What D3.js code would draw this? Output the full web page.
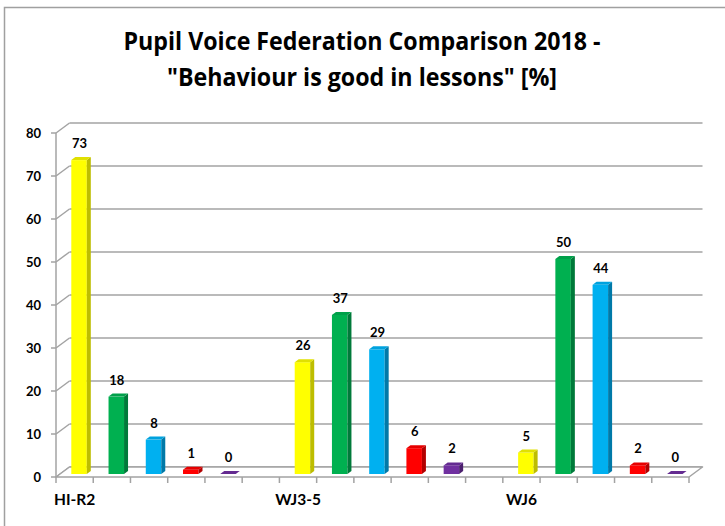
<!DOCTYPE html>
<html>
<head>
<meta charset="utf-8">
<script src="https://cdn.jsdelivr.net/npm/d3@7"></script>
<style>
  html, body { margin: 0; padding: 0; background: #fff; }
  svg { display: block; }
</style>
</head>
<body>
<svg id="chart" width="725" height="526"></svg>
<script>
// ---- data ----
const categories = ["HI-R2", "WJ3-5", "WJ6"];
const hiR2 = [73, 18, 8, 1, 0];
const wj35 = [26, 37, 29, 6, 2];
const wj6  = [5, 50, 44, 2, 0];
const groupValues = [hiR2, wj35, wj6];
const yTicks = [0, 10, 20, 30, 40, 50, 60, 70, 80];
const titleLines = ["Pupil Voice Federation Comparison 2018 -", "\"Behaviour is good in lessons\" [%]"];
const frontColors = ["#FFFF00", "#00B050", "#00B0F0", "#FF0000", "#7030A0"];
const sideColors  = ["#BDBD00", "#007A3A", "#0079A8", "#B30000", "#4B1F6E"];
const topColors   = ["#E0E000", "#00A04A", "#00A2DE", "#E60000", "#642B91"];

// ---- layout ----
const svg = d3.select("#chart");
const slotsPerGroup = 6;
const nSlots = (categories.length - 1) * slotsPerGroup + hiR2.length;
const bars = [];
groupValues.forEach((vals, g) => vals.forEach((v, j) => bars.push({ slot: g * slotsPerGroup + j, v, j })));

const x = d3.scaleBand().domain(d3.range(nSlots)).range([56, 689]);
const y = d3.scaleLinear().domain([0, 80]).range([477, 133]);
const depthX = 13.5, depthY = -10;   // back wall offset
const barDX = 4.2, barDY = -3;       // bar front-face offset
const barThX = 4, barThY = -3;       // bar depth
const bw = x.bandwidth();
const axisCol = "#a3a3a3";

// outer border
svg.append("path").attr("d", "M4.5,526 V7.5 H725").attr("fill", "none")
  .attr("stroke", "#a0a0a0").attr("stroke-width", 1.5);

// title
const tl = [ {t: titleLines[0], y: 50, len: 477}, {t: titleLines[1], y: 86, len: 390} ];
svg.selectAll("text.title").data(tl).join("text").attr("class", "title")
  .attr("x", 362).attr("y", d => d.y).attr("text-anchor", "middle")
  .attr("font-family", "'Liberation Sans Narrow', 'Open Sans', sans-serif")
  .attr("font-weight", "bold").attr("font-size", 25).attr("fill", "#000")
  .attr("textLength", d => d.len).attr("lengthAdjust", "spacingAndGlyphs")
  .text(d => d.t);

const x0 = x.range()[0], x1 = x.range()[1];

// back wall gridlines
svg.selectAll("line.grid").data(yTicks).join("line").attr("class", "grid")
  .attr("x1", x0 + depthX).attr("x2", x1 + depthX)
  .attr("y1", d => y(d) + depthY).attr("y2", d => y(d) + depthY)
  .attr("stroke", axisCol).attr("stroke-width", 1.5);

// left wall diagonals
svg.selectAll("line.diag").data(yTicks).join("line").attr("class", "diag")
  .attr("x1", x0).attr("x2", x0 + depthX)
  .attr("y1", d => y(d)).attr("y2", d => y(d) + depthY)
  .attr("stroke", axisCol).attr("stroke-width", 1.5);

// floor
svg.append("path")
  .attr("d", `M${x0},${y(0)} L${x1},${y(0)} L${x1 + depthX},${y(0) + depthY} L${x0 + depthX},${y(0) + depthY} Z`)
  .attr("fill", "#fff").attr("stroke", axisCol).attr("stroke-width", 1.5).attr("stroke-linejoin", "round");

// y axis line + ticks
svg.append("line").attr("x1", x0).attr("x2", x0).attr("y1", y(0)).attr("y2", y(80))
  .attr("stroke", axisCol).attr("stroke-width", 1.5);
svg.selectAll("line.ytick").data(yTicks).join("line").attr("class", "ytick")
  .attr("x1", x0 - 5).attr("x2", x0).attr("y1", d => y(d)).attr("y2", d => y(d))
  .attr("stroke", axisCol).attr("stroke-width", 1.5);
svg.selectAll("text.ylab").data(yTicks).join("text").attr("class", "ylab")
  .attr("x", 41).attr("y", d => y(d)).attr("dy", "0.36em").attr("text-anchor", "end")
  .attr("font-family", "Lato, 'Open Sans', sans-serif").attr("font-weight", "bold")
  .attr("font-size", 13).attr("fill", "#000").text(d => d);

// x ticks
const xTickPos = d3.range(nSlots + 1).map(i => x0 + i * x.step());
svg.selectAll("line.xtick").data(xTickPos).join("line").attr("class", "xtick")
  .attr("x1", d => d).attr("x2", d => d).attr("y1", y(0)).attr("y2", y(0) + 6)
  .attr("stroke", axisCol).attr("stroke-width", 1.5);

// category labels
svg.selectAll("text.cat").data(categories).join("text").attr("class", "cat")
  .attr("x", (d, i) => x(i * slotsPerGroup) + bw / 2).attr("y", 505)
  .attr("text-anchor", "middle")
  .attr("font-family", "Lato, 'Open Sans', sans-serif").attr("font-weight", "bold")
  .attr("font-size", 15.5).attr("fill", "#000").text(d => d);

// bars
const barW = 15.5;
const bL = d => x(d.slot) + 15.3;
const bT = d => y(d.v) + barDY;
const bB = d => y(0) + barDY;
const gBars = svg.append("g");
bars.forEach(d => {
  const l = bL(d), r = l + barW, t = bT(d), b = bB(d);
  if (d.v > 0) {
    gBars.append("rect").attr("x", l).attr("y", t).attr("width", barW).attr("height", b - t)
      .attr("fill", frontColors[d.j]);
    gBars.append("path")
      .attr("d", `M${r},${t} L${r + barThX},${t + barThY} L${r + barThX},${b + barThY} L${r},${b} Z`)
      .attr("fill", sideColors[d.j]);
  }
  gBars.append("path")
    .attr("d", `M${l},${t} L${r},${t} L${r + barThX},${t + barThY} L${l + barThX},${t + barThY} Z`)
    .attr("fill", topColors[d.j]);
});

// value labels
svg.selectAll("text.val").data(bars).join("text").attr("class", "val")
  .attr("x", d => bL(d) + barW / 2 + 0.5).attr("y", d => bT(d) - 12)
  .attr("text-anchor", "middle")
  .attr("font-family", "Lato, 'Open Sans', sans-serif").attr("font-weight", "bold")
  .attr("font-size", 13).attr("fill", "#000").text(d => d.v);
</script>
</body>
</html>
